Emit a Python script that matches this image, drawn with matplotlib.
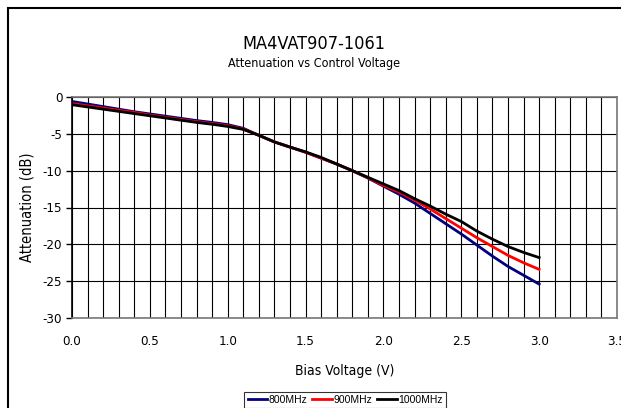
import numpy as np
import matplotlib
matplotlib.use("Agg")
import matplotlib.pyplot as plt
from matplotlib.patches import Rectangle
from matplotlib import font_manager

# bias voltage (V)
volts = [0.0, 0.1, 0.2, 0.3, 0.4, 0.5, 0.6, 0.7, 0.8, 0.9, 1.0,
         1.1, 1.2, 1.3, 1.4, 1.5, 1.6, 1.7, 1.8, 1.9, 2.0,
         2.1, 2.2, 2.3, 2.4, 2.5, 2.6, 2.7, 2.8, 2.9, 3.0]

# attenuation (dB)
att_800 = [-0.6, -0.95, -1.3, -1.65, -2.0, -2.3, -2.6, -2.9, -3.2, -3.45, -3.75,
           -4.25, -5.2, -6.1, -6.8, -7.5, -8.3, -9.1, -10.0, -11.0, -12.1,
           -13.2, -14.4, -15.8, -17.2, -18.6, -20.1, -21.6, -23.0, -24.2, -25.4]
att_900 = [-0.9, -1.2, -1.5, -1.8, -2.1, -2.45, -2.75, -3.05, -3.35, -3.6, -3.9,
           -4.35, -5.2, -6.1, -6.8, -7.5, -8.3, -9.1, -10.0, -10.95, -12.0,
           -12.9, -14.0, -15.2, -16.5, -17.8, -19.1, -20.3, -21.5, -22.5, -23.4]
att_1000 = [-1.05, -1.35, -1.65, -1.95, -2.25, -2.55, -2.85, -3.15, -3.45, -3.7, -4.0,
            -4.4, -5.2, -6.1, -6.8, -7.45, -8.2, -9.1, -10.0, -10.9, -11.8,
            -12.7, -13.8, -14.8, -15.9, -16.9, -18.2, -19.3, -20.3, -21.1, -21.8]

series = [("800MHz", att_800, "#000080"),
          ("900MHz", att_900, "#ff0000"),
          ("1000MHz", att_1000, "#000000")]

plt.rcParams["axes.unicode_minus"] = False

# condensed face if there is one, else plain DejaVu
names = set(f.name for f in font_manager.fontManager.ttflist)
if "Liberation Sans Narrow" in names:
    narrow = dict(family="Liberation Sans Narrow")
else:
    narrow = dict(family="DejaVu Sans", stretch="condensed")

W, H = 621, 408
fig = plt.figure(figsize=(W / 100, H / 100), dpi=100)

# outer chart frame (runs off the right and bottom edge)
fig.patches.append(Rectangle((8 / W, -0.1), 1.1, 1 - 8 / H + 0.1,
                             transform=fig.transFigure, fill=False,
                             edgecolor="black", linewidth=1.5))

ax = fig.add_axes([72 / W, 1 - 318 / H, 545 / W, 221 / H])

for name, vals, col in series:
    ax.plot(volts, vals, color=col, lw=2, label=name)

ax.set_xlim(0, 3.5)
ax.set_ylim(-30, 0)
ax.set_xticks(np.arange(0, 3.51, 0.5))
ax.set_xticks(np.arange(0, 3.51, 0.1), minor=True)
ax.set_yticks(np.arange(-30, 0.1, 5))
ax.set_xticklabels(["%.1f" % v for v in np.arange(0, 3.51, 0.5)])
ax.set_yticklabels(["%d" % v for v in np.arange(-30, 0.1, 5)])
ax.grid(True, which="both", axis="x", color="black", lw=0.8)
ax.grid(True, which="major", axis="y", color="black", lw=0.8)
ax.tick_params(axis="x", which="both", length=0, pad=12)
ax.tick_params(axis="y", length=4, width=1, pad=3)
for sp in ax.spines.values():
    sp.set_color("#777777")
    sp.set_linewidth(1.2)
ax.spines["left"].set_color("black")

for lab in ax.get_xticklabels() + ax.get_yticklabels():
    lab.set(**narrow)
    lab.set_fontsize(9.5)

ax.set_xlabel("Bias Voltage (V)", fontsize=10, labelpad=12, **narrow)
ax.set_ylabel("Attenuation (dB)", fontsize=10.5, labelpad=6, **narrow)

fig.text(314 / W, 1 - 44 / H, "MA4VAT907-1061", fontsize=13,
         ha="center", va="center", **narrow)
fig.text(314 / W, 1 - 64 / H, "Attenuation vs Control Voltage",
         fontsize=9, ha="center", va="center", **narrow)

leg = fig.legend(loc="upper center", bbox_to_anchor=(345 / W, 1 - 392 / H),
                 ncol=3, frameon=True, fancybox=False,
                 prop=dict(family="Liberation Sans", size=7.5),
                 handlelength=1.9, handletextpad=0.1, columnspacing=0.5,
                 borderpad=0.3, borderaxespad=0)
leg.get_frame().set_edgecolor("black")
leg.get_frame().set_linewidth(0.8)

fig.savefig("out.png", dpi=100)
